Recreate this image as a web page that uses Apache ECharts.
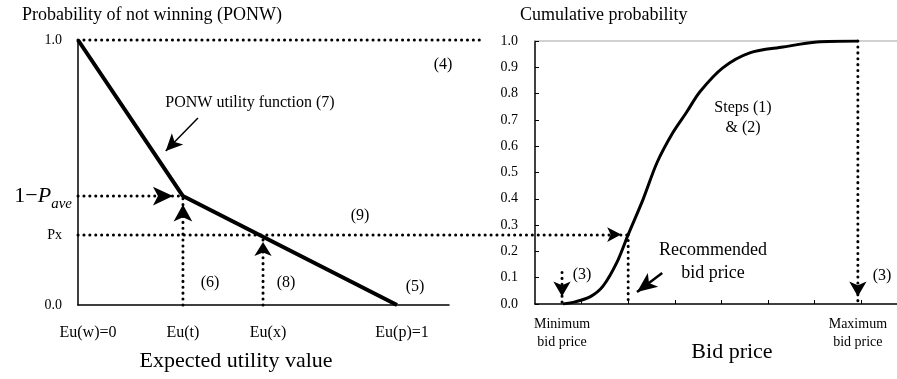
<!DOCTYPE html>
<html><head><meta charset="utf-8">
<script src="https://cdn.jsdelivr.net/npm/echarts@6/dist/echarts.min.js"></script>
<style>html,body{margin:0;padding:0;background:#fff}#c{width:897px;height:379px}</style>
</head><body><div id="c"></div>
<script>
// ---------- Left panel: PONW utility function ----------
const euValues   = [0, 0.329, 1];        // Eu(w)=0, Eu(t), Eu(p)=1
const ponwValues = [1.0, 0.411, 0.0];    // PONW at those points
const euT  = 0.329;                       // Eu(t)
const euX  = 0.58;                        // Eu(x)
const pAve = 0.411;                       // 1 - P_ave
const pX   = 0.264;                       // Px
const leftXTickValues = [0, 0.329, 0.58, 1];
const leftXTickLabels = ['Eu(w)=0', 'Eu(t)', 'Eu(x)', 'Eu(p)=1'];
const leftYTickValues = [0, 0.264, 0.411, 1];
const leftYTickLabels = ['0.0', 'Px', '1−P_ave', '1.0'];
const topGuideEnd = 1.27;                 // extent of dotted guide at PONW = 1.0

// ---------- Right panel: cumulative probability of bid price ----------
const bidPrice = [0.6, 0.86, 1.18, 1.46, 1.76, 2.0, 2.32, 2.62, 2.96, 3.26, 3.54, 4.03, 4.61, 5.32, 6.05, 6.93];
const cumProb  = [0, 0.008, 0.027, 0.068, 0.159, 0.264, 0.398, 0.538, 0.652, 0.731, 0.807, 0.898, 0.955, 0.977, 0.996, 1.0];
const minBid = 0.58, maxBid = 6.93, recBid = 2.0;
const bidTickValues = [1, 2, 3, 4, 5, 6, 7];
const bidLabelValues = [0.58, 6.93];
const bidLabelTexts = ['Minimum\nbid price', 'Maximum\nbid price'];

const SERIF = "'Liberation Serif','Times New Roman',serif";
const chart = echarts.init(document.getElementById('c'), null, {renderer: 'canvas'});

const DOT = {color: '#000', width: 3, type: [0.1, 5.8], cap: 'round'};
function dotted(id, g, pts) {
  return {id, type: 'line', xAxisIndex: g, yAxisIndex: g, data: pts, symbol: 'none', showSymbol: false,
          clip: false, silent: true, lineStyle: DOT, z: 3, animation: false};
}
function head(g, pt, dir, w, h) {
  const rot = {up: 0, right: -90, down: 180, left: 90}[dir];
  const off = {up: [0, h / 2], right: [-h / 2, 0], down: [0, -h / 2], left: [h / 2, 0]}[dir];
  return {type: 'scatter', xAxisIndex: g, yAxisIndex: g, data: [pt], symbol: 'arrow', symbolSize: [w, h],
          symbolRotate: rot, symbolOffset: off, itemStyle: {color: '#000', opacity: 1}, clip: false, silent: true, z: 4, animation: false};
}
function solidArrow(g, from, to, width, w, h) {
  return {type: 'lines', coordinateSystem: 'cartesian2d', xAxisIndex: g, yAxisIndex: g,
          data: [{coords: [from, to]}], symbol: ['none', 'arrow'], symbolSize: [[0, 0], [w, h]],
          lineStyle: {color: '#000', width: width, opacity: 1, curveness: 0}, clip: false, silent: true, z: 5, animation: false};
}
function txt(x, y, text, size, align) {
  return {type: 'text', x: x, y: y, silent: true, z: 10,
          style: {text: text, fontSize: size, fontFamily: SERIF, fill: '#000', align: align || 'center', verticalAlign: 'middle', lineHeight: size + 4}};
}
const hiddenAxis = {axisLine: {show: false}, axisTick: {show: false}, axisLabel: {show: false}, splitLine: {show: false}};

const option = {
  animation: false,
  backgroundColor: '#fff',
  grid: [
    {left: 78, top: 40, width: 371, height: 265},
    {left: 535, top: 41, right: 0, height: 263},
    {left: 78, top: 40, right: 0, height: 265}          // overlay for guides that cross panels
  ],
  xAxis: [
    {gridIndex: 0, type: 'value', min: 0, max: 1.163,
     axisLine: {lineStyle: {color: '#000', width: 1.5}}, axisTick: {show: false}, splitLine: {show: false},
     axisLabel: {customValues: leftXTickValues, margin: 20, color: '#000',
                 formatter: v => '{l' + leftXTickValues.indexOf(v) + '|' + (leftXTickLabels[leftXTickValues.indexOf(v)] || '') + '}',
                 rich: {
                   l0: {fontSize: 16, fontFamily: SERIF, color: '#000', padding: [0, 0, 0, 20]},
                   l1: {fontSize: 16, fontFamily: SERIF, color: '#000'},
                   l2: {fontSize: 16, fontFamily: SERIF, color: '#000', padding: [0, 0, 0, 10]},
                   l3: {fontSize: 16, fontFamily: SERIF, color: '#000', padding: [0, 0, 0, 10]}
                 }}},
    {gridIndex: 1, type: 'value', min: 0, max: 7.77,
     axisLine: {lineStyle: {color: '#000', width: 1.5}},
     axisTick: {show: true, inside: true, length: 4, customValues: bidTickValues, lineStyle: {color: '#000', width: 1}},
     splitLine: {show: false},
     axisLabel: {customValues: bidLabelValues, margin: 11, fontSize: 14, lineHeight: 18, fontFamily: SERIF, color: '#000',
                 formatter: v => bidLabelTexts[bidLabelValues.indexOf(v)] || ''}},
    Object.assign({gridIndex: 2, type: 'value', min: 0, max: 2.5674}, hiddenAxis),
    {gridIndex: 1, type: 'value', position: 'top', min: 0, max: 7.77,
     axisLine: {lineStyle: {color: '#c4c4c4', width: 1.5}}, axisTick: {show: false}, axisLabel: {show: false}, splitLine: {show: false}}
  ],
  yAxis: [
    {gridIndex: 0, type: 'value', min: 0, max: 1,
     axisLine: {show: true, lineStyle: {color: '#000', width: 1.5}}, axisTick: {show: false}, splitLine: {show: false},
     axisLabel: {customValues: leftYTickValues, margin: 6, color: '#000',
                 formatter: v => {
                   const s = leftYTickLabels[leftYTickValues.indexOf(v)] || '';
                   if (s === '1−P_ave') return '{a|1−}{p|P}{s|ave}';
                   return '{n|' + s + '}';
                 },
                 rich: {
                   n: {fontSize: 14, fontFamily: SERIF, color: '#000', padding: [0, 10, 0, 0]},
                   a: {fontSize: 22, fontFamily: SERIF, color: '#000', verticalAlign: 'top', lineHeight: 22},
                   p: {fontSize: 22, fontFamily: SERIF, fontStyle: 'italic', color: '#000', verticalAlign: 'top', lineHeight: 22},
                   s: {fontSize: 15, fontFamily: SERIF, fontStyle: 'italic', color: '#000', verticalAlign: 'top', lineHeight: 15, padding: [11, 0, 0, 0]}
                 }}},
    {gridIndex: 1, type: 'value', min: 0, max: 1, interval: 0.1,
     axisLine: {show: true, lineStyle: {color: '#000', width: 1.5}},
     axisTick: {show: true, inside: true, length: 4, lineStyle: {color: '#000', width: 1}},
     splitLine: {show: false},
     axisLabel: {margin: 17, fontSize: 14, fontFamily: SERIF, color: '#000', formatter: v => v.toFixed(1)}},
    Object.assign({gridIndex: 2, type: 'value', min: 0, max: 1}, hiddenAxis)
  ],
  series: [
    {id: 'ponw', type: 'line', xAxisIndex: 0, yAxisIndex: 0, data: euValues.map((x, i) => [x, ponwValues[i]]),
     symbol: 'none', lineStyle: {color: '#000', width: 4}, z: 2},
    {id: 'cum', type: 'line', xAxisIndex: 1, yAxisIndex: 1, data: bidPrice.map((x, i) => [x, cumProb[i]]),
     symbol: 'none', smooth: 0.3, lineStyle: {color: '#000', width: 3}, z: 2},
    dotted('top', 2, [[0, 1], [topGuideEnd, 1]]),
    dotted('paveH', 0, [[0, pAve], [euT, pAve]]),
    dotted('euTV', 0, [[euT, 0], [euT, pAve]]),
    dotted('euXV', 0, [[euX, 0], [euX, pX]]),
    dotted('pxLine', 2, [[0, pX], [0, pX]]),
    dotted('recV', 1, [[recBid, pX], [recBid, 0]]),
    dotted('minV', 1, [[minBid, 0.12], [minBid, 0]]),
    dotted('maxV', 1, [[maxBid, 1], [maxBid, 0]]),
    head(0, [euT, pAve], 'right', 14, 20),
    head(0, [euT, pAve], 'up', 14, 17),
    head(0, [euX, pX], 'up', 13, 14),
    head(1, [recBid, pX], 'right', 11, 14),
    head(1, [minBid, 0], 'down', 13, 15),
    head(1, [maxBid, 0], 'down', 13, 15),
    solidArrow(0, [0.376, 0.706], [0.275, 0.581], 1.5, 12, 17),
    solidArrow(1, [2.73, 0.118], [2.19, 0.046], 2.5, 13, 20)
  ],
  graphic: [
    txt(22, 15, 'Probability of not winning (PONW)', 18, 'left'),
    txt(520, 15, 'Cumulative probability', 18, 'left'),
    txt(236, 361, 'Expected utility value', 22),
    txt(732, 352, 'Bid price', 22),
    txt(250, 103, 'PONW utility function (7)', 16),
    txt(443, 65, '(4)', 16),
    txt(360, 216, '(9)', 16),
    txt(210, 283, '(6)', 16),
    txt(286, 283, '(8)', 16),
    txt(415, 287, '(5)', 16),
    txt(582, 275, '(3)', 16),
    txt(882, 276, '(3)', 16),
    txt(743, 108, 'Steps (1)', 16),
    txt(743, 128, '& (2)', 16),
    txt(713, 250, 'Recommended', 18),
    txt(713, 273, 'bid price', 18)
  ]
};
chart.setOption(option);

// extend the Px guide from the left axis across to the cumulative curve at the recommended bid
const pxEndPix = chart.convertToPixel({gridIndex: 1}, [recBid, pX]);
const pxEnd = chart.convertFromPixel({gridIndex: 2}, pxEndPix);
chart.setOption({series: [{id: 'pxLine', data: [[0, pX], [pxEnd[0], pX]]}]});
</script>
</body></html>
